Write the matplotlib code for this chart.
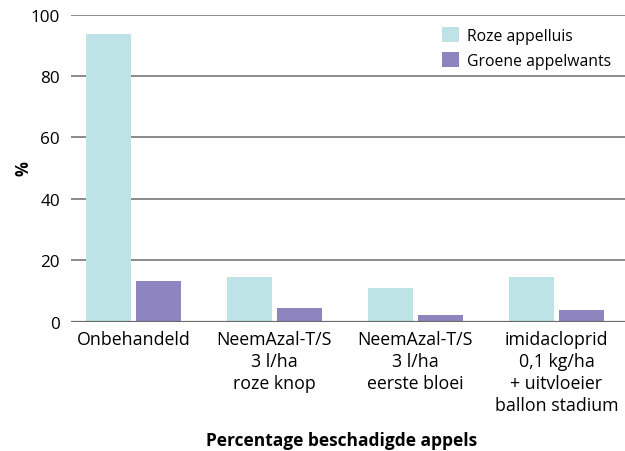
import numpy as np
import matplotlib
matplotlib.use('Agg')
import matplotlib.pyplot as plt

# data
categories = ['Onbehandeld',
              'NeemAzal-T/S\n3 l/ha\nroze knop',
              'NeemAzal-T/S\n3 l/ha\neerste bloei',
              'imidacloprid\n0,1 kg/ha\n+ uitvloeier\nballon stadium']
roze_appelluis = [93.6, 14.5, 10.9, 14.5]
groene_appelwants = [13.2, 4.4, 2.1, 3.7]
series_names = ['Roze appelluis', 'Groene appelwants']
yticks = [0, 20, 40, 60, 80, 100]

plt.rcParams['font.family'] = ['Open Sans', 'DejaVu Sans']

cyan = '#bde3e6'
purple = '#8e85be'

fig = plt.figure(figsize=(6.25, 4.52), dpi=100)
ax = fig.add_axes([0.1136, 0.2865, 0.8864, 0.6792])

x = np.arange(len(categories))
width = 0.319
offset = 0.177
ax.bar(x - offset, roze_appelluis, width, color=cyan, label=series_names[0], zorder=3)
ax.bar(x + offset, groene_appelwants, width, color=purple, label=series_names[1], zorder=3)

ax.set_xlim(-0.443, 3.486)
ax.set_ylim(0, 100)
ax.set_yticks(yticks)
ax.yaxis.grid(True, color='#8a8a8a', linewidth=1.4, zorder=0)
ax.axhline(0, color='#6a6a6a', linewidth=1.6, zorder=4)
for s in ax.spines.values():
    s.set_visible(False)

ax.set_xticks(x)
ax.set_xticklabels(categories, fontsize=12.8, linespacing=1.3)
ax.tick_params(axis='x', length=0, pad=6)
ax.tick_params(axis='y', length=0, pad=8, labelsize=12.3)

ax.set_ylabel('%', fontsize=12, fontweight='bold', labelpad=-1)

leg = ax.legend(loc='upper right', bbox_to_anchor=(0.995, 0.995), frameon=False,
                fontsize=11.3, handlelength=1.1, handleheight=1.1,
                handletextpad=0.5, labelspacing=0.5, borderaxespad=0.3)

fig.text(341.5 / 625, 1 - 441 / 452, 'Percentage beschadigde appels',
         ha='center', va='center', fontsize=12.5, fontweight='bold')

fig.savefig('out.png', dpi=100)
